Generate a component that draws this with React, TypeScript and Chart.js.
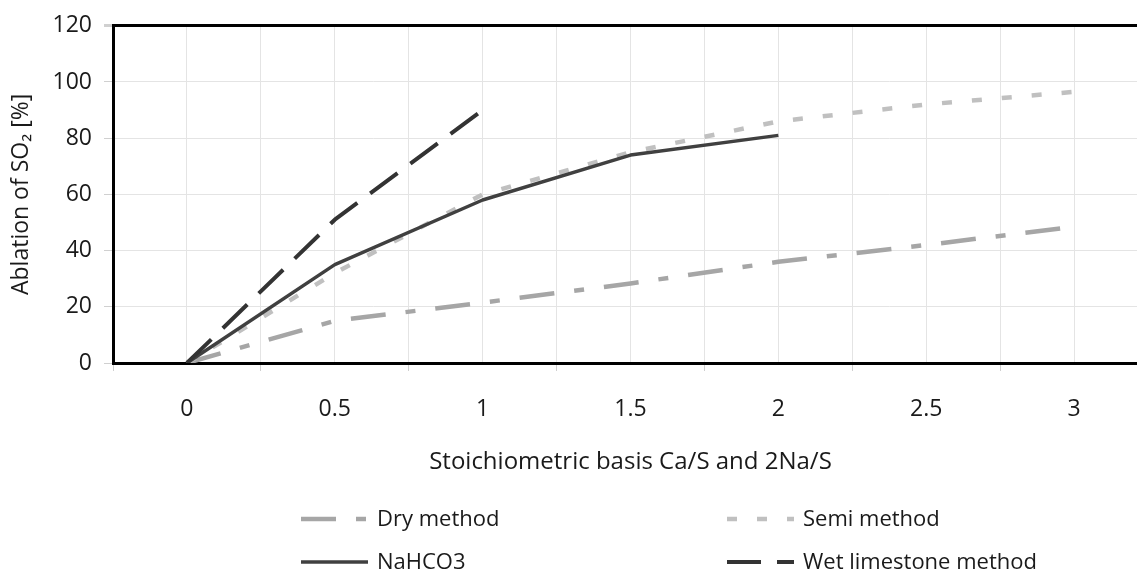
import React, { useEffect, useRef } from "react";
import { Chart, registerables } from "chart.js";

Chart.register(...registerables);

// ---- data ----
const xValues = [0, 0.5, 1, 1.5, 2, 2.5, 3];
const xTickLabels = ["0", "0.5", "1", "1.5", "2", "2.5", "3"];
const dryMethod = [0, 15, 21.5, 28.3, 36, 42, 48.5];
const semiMethod = [0, 32, 60, 75, 86, 92, 96.5];
const nahco3 = [0, 35, 58, 74, 81];
const wetLimestone = [0, 51, 90];
const seriesLabels = ["Dry method", "Semi method", "NaHCO3", "Wet limestone method"];
const yTitle = "Ablation of SO\u2082 [%]";
const xTitle = "Stoichiometric basis Ca/S and 2Na/S";

const FONT = "'Open Sans', 'Noto Sans', sans-serif";
const TEXT = "#1a1a1a";
const GRID = "#e4e4e4";
const TICKMARK = "#d0d0d0";

const toPoints = (ys: number[]) => ys.map((y, i) => ({ x: xValues[i], y }));

const legendPlugin = {
  id: "customLegend",
  afterDraw(chart: any) {
    const ctx = chart.ctx as CanvasRenderingContext2D;
    const items: [number, number, number][] = [
      [0, 301, 519],
      [1, 727, 519],
      [2, 301, 562],
      [3, 727, 562],
    ];
    ctx.save();
    items.forEach(([idx, x, y]) => {
      const ds = chart.data.datasets[idx];
      ctx.beginPath();
      ctx.setLineDash(ds.borderDash || []);
      ctx.lineWidth = ds.borderWidth;
      ctx.strokeStyle = ds.borderColor;
      ctx.lineCap = "butt";
      ctx.moveTo(x, y);
      ctx.lineTo(x + 67, y);
      ctx.stroke();
      ctx.setLineDash([]);
      ctx.fillStyle = TEXT;
      ctx.font = `22px ${FONT}`;
      ctx.textBaseline = "middle";
      ctx.textAlign = "left";
      ctx.fillText(ds.label, x + 76, y + 1);
    });
    ctx.restore();
  },
};

export default function App() {
  const ref = useRef<HTMLCanvasElement | null>(null);

  useEffect(() => {
    if (!ref.current) return;
    const chart = new Chart(ref.current, {
      type: "line",
      data: {
        datasets: [
          {
            label: seriesLabels[0],
            data: toPoints(dryMethod),
            borderColor: "#a6a6a6",
            borderWidth: 4.5,
            borderDash: [35, 20, 10, 20],
            pointRadius: 0,
            order: 3,
          },
          {
            label: seriesLabels[1],
            data: toPoints(semiMethod),
            borderColor: "#c0c0c0",
            borderWidth: 4.5,
            borderDash: [10, 20],
            pointRadius: 0,
            order: 2,
          },
          {
            label: seriesLabels[2],
            data: toPoints(nahco3),
            borderColor: "#404040",
            borderWidth: 3.5,
            pointRadius: 0,
            order: 1,
          },
          {
            label: seriesLabels[3],
            data: toPoints(wetLimestone),
            borderColor: "#333333",
            borderWidth: 4,
            borderDash: [34, 16],
            pointRadius: 0,
            order: 0,
          },
        ] as any,
      },
      options: {
        responsive: false,
        animation: false,
        devicePixelRatio: 1,
        layout: { padding: { top: 21, right: 12, bottom: 85, left: 0 } },
        elements: { line: { tension: 0, borderJoinStyle: "round", fill: false } },
        plugins: {
          legend: { display: false },
          tooltip: { enabled: false },
        },
        scales: {
          x: {
            type: "linear",
            min: -0.25,
            max: 3.25,
            afterFit: (s: any) => {
              s.height = 125;
              s.paddingLeft = 0;
              s.paddingRight = 0;
            },
            ticks: {
              stepSize: 0.25,
              autoSkip: false,
              maxRotation: 0,
              padding: 25,
              color: TEXT,
              font: { family: FONT, size: 23 },
              callback: (v: any) => {
                const i = xValues.indexOf(Number(v));
                return i >= 0 ? xTickLabels[i] : "";
              },
            },
            grid: {
              color: GRID,
              lineWidth: 1,
              drawTicks: true,
              tickLength: 8,
              tickColor: (c: any) => {
                const v = c.tick ? c.tick.value : 0;
                return Math.abs(((v + 0.25) * 2) % 1) < 1e-6 ? TICKMARK : "rgba(0,0,0,0)";
              },
            },
            border: { display: true, color: "#000", width: 3 },
            title: {
              display: true,
              text: xTitle,
              color: TEXT,
              font: { family: FONT, size: 24 },
              padding: { top: 0, bottom: 11 },
            },
          },
          y: {
            min: 0,
            max: 120,
            afterFit: (s: any) => {
              s.width = 113;
            },
            ticks: {
              stepSize: 20,
              padding: 12,
              color: TEXT,
              font: { family: FONT, size: 23 },
            },
            grid: {
              color: (c: any) => (c.tick && c.tick.value === 120 ? "#000" : GRID),
              lineWidth: (c: any) => (c.tick && c.tick.value === 120 ? 3 : 1),
              tickLength: 9,
              tickColor: TICKMARK,
            },
            border: { display: true, color: "#000", width: 3 },
            title: {
              display: true,
              text: yTitle,
              color: TEXT,
              font: { family: FONT, size: 23 },
              padding: { top: 8, bottom: 0 },
            },
          },
        },
      } as any,
      plugins: [legendPlugin],
    });
    return () => chart.destroy();
  }, []);

  return (
    <div
      style={{
        position: "fixed",
        left: 0,
        top: 0,
        width: 1137,
        height: 573,
        overflow: "hidden",
        background: "#fff",
      }}
    >
      <canvas ref={ref} width={1160} height={573} style={{ width: 1160, height: 573, display: "block" }} />
    </div>
  );
}
